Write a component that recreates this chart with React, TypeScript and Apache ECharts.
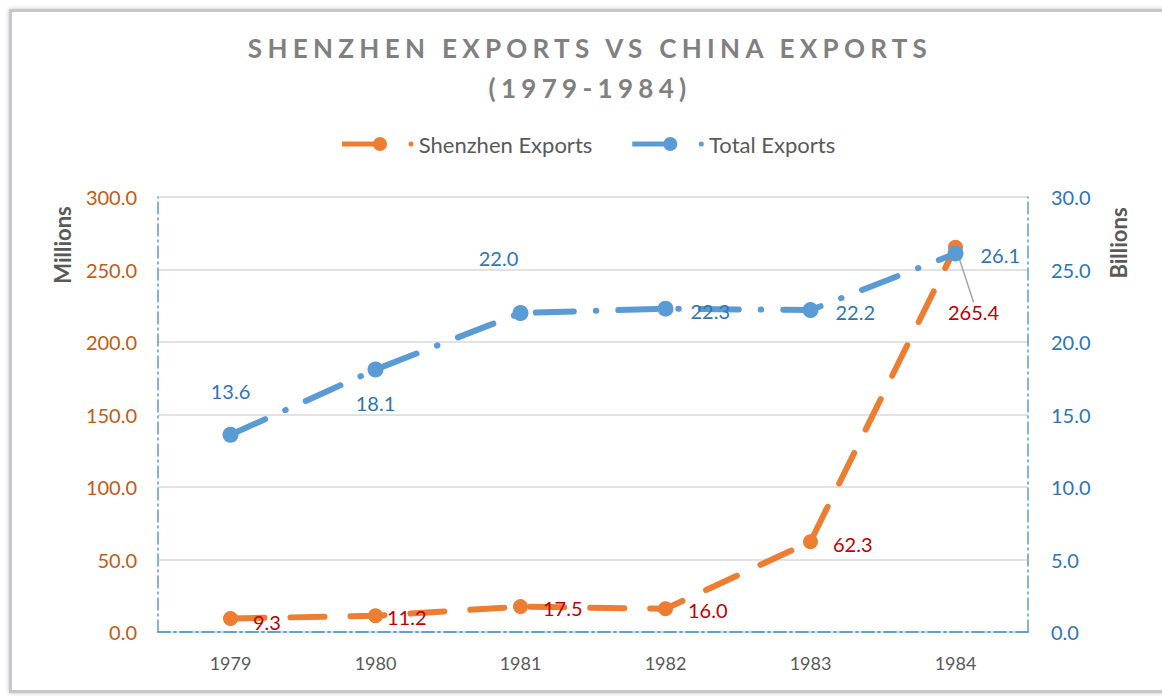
import React, { useEffect, useRef } from "react";
import * as echarts from "echarts";

const years = ["1979", "1980", "1981", "1982", "1983", "1984"];
const shenzhenExports = [9.3, 11.2, 17.5, 16.0, 62.3, 265.4];
const totalExports = [13.6, 18.1, 22.0, 22.3, 22.2, 26.1];
const leftAxisRange = { min: 0, max: 300, interval: 50 };
const rightAxisRange = { min: 0, max: 30, interval: 5 };

// label shifts (dx, dy) applied through labelLayout for the Shenzhen series
const shenzhenLabelShift = [
  [10, 3],
  [-1, 1],
  [10, 1],
  [10, 1],
  [10, 2],
  [-20, 65],
];
const totalLabelPlacement = [
  { position: "top", offset: [0, -21] },
  { position: "bottom", offset: [0, 10] },
  { position: "top", offset: [-22, -32] },
  { position: "right", offset: [12, 2] },
  { position: "right", offset: [12, 2] },
  { position: "right", offset: [12, 1] },
];

const ORANGE = "#ED7D31";
const BLUE = "#5B9BD5";
const FONT = "Lato";
const TITLE_FONT = "Lato, Carlito";
const BORDER_DASH = [12, 4, 2, 4];

const legendIcon =
  "path://M0 4.5H40V9.5H0Z M31 7A7 7 0 1 1 45 7A7 7 0 1 1 31 7Z M66.5 7A2.5 2.5 0 1 1 71.5 7A2.5 2.5 0 1 1 66.5 7Z";

export default function App() {
  const ref = useRef<HTMLDivElement>(null);

  useEffect(() => {
    document.body.style.margin = "0";
    if (!ref.current) return;
    const chart = echarts.init(ref.current, null, { renderer: "svg" });

    const borderLine = { show: true, lineStyle: { color: BLUE, width: 1.5, type: BORDER_DASH } };

    const option: any = {
      animation: false,
      backgroundColor: "#ffffff",
      title: {
        text: "SHENZHEN EXPORTS VS CHINA EXPORTS\n(1979-1984)",
        left: 585,
        top: 23,
        textAlign: "center",
        textStyle: {
          fontFamily: TITLE_FONT,
          fontSize: 26,
          fontWeight: "bold",
          color: "#808080",
          lineHeight: 40,
        },
      },
      legend: {
        top: 128,
        left: 337,
        itemGap: 40,
        itemWidth: 72,
        itemHeight: 14,
        textStyle: { fontFamily: FONT, fontSize: 22, color: "#595959" },
        data: [
          { name: "Shenzhen Exports", icon: legendIcon },
          { name: "Total Exports", icon: legendIcon },
        ],
      },
      grid: { left: 158, right: 134, top: 197, bottom: 64 },
      xAxis: [
        {
          type: "category",
          data: years,
          boundaryGap: true,
          axisLine: borderLine,
          axisTick: { show: false },
          axisLabel: { fontFamily: FONT, fontSize: 18, color: "#595959", margin: 22 },
          splitLine: { show: false },
        },
        {
          type: "category",
          data: years,
          position: "top",
          boundaryGap: true,
          axisLine: borderLine,
          axisTick: { show: false },
          axisLabel: { show: false },
          splitLine: { show: false },
        },
      ],
      yAxis: [
        {
          type: "value",
          ...leftAxisRange,
          position: "left",
          axisLine: borderLine,
          axisTick: { show: false },
          axisLabel: {
            fontFamily: FONT,
            fontSize: 20,
            color: "#C55A11",
            margin: 21,
            formatter: (v: number) => v.toFixed(1),
          },
          splitLine: { show: true, lineStyle: { color: "#D9D9D9", width: 1.5 } },
        },
        {
          type: "value",
          ...rightAxisRange,
          position: "right",
          axisLine: borderLine,
          axisTick: { show: false },
          axisLabel: {
            fontFamily: FONT,
            fontSize: 20,
            color: "#2E75B6",
            margin: 23,
            formatter: (v: number) => v.toFixed(1),
          },
          splitLine: { show: false },
        },
      ],
      series: [
        {
          name: "Shenzhen Exports",
          type: "line",
          xAxisIndex: 0,
          yAxisIndex: 0,
          symbol: "circle",
          symbolSize: 15,
          color: ORANGE,
          itemStyle: { color: ORANGE },
          lineStyle: { color: ORANGE, width: 6, type: [34, 26], cap: "round" },
          label: {
            show: true,
            position: "right",
            distance: 5,
            fontFamily: FONT,
            fontSize: 20,
            color: "#C00000",
            formatter: (p: any) => Number(p.value).toFixed(1),
          },
          labelLine: { show: false },
          labelLayout: (p: any) => ({
            dx: shenzhenLabelShift[p.dataIndex][0],
            dy: shenzhenLabelShift[p.dataIndex][1],
          }),
          data: shenzhenExports.map((v, i) => ({
            value: v,
            labelLine:
              i === 5
                ? { show: true, lineStyle: { color: "#A6A6A6", width: 1.5 } }
                : { show: false },
          })),
          z: 2,
        },
        {
          name: "Total Exports",
          type: "line",
          xAxisIndex: 0,
          yAxisIndex: 1,
          symbol: "circle",
          symbolSize: 16,
          color: BLUE,
          itemStyle: { color: BLUE },
          lineStyle: { color: BLUE, width: 6, type: [38, 22, 0.5, 22], cap: "round" },
          label: {
            show: true,
            distance: 5,
            fontFamily: FONT,
            fontSize: 20,
            color: "#2E75B6",
            formatter: (p: any) => Number(p.value).toFixed(1),
          },
          data: totalExports.map((v, i) => ({ value: v, label: totalLabelPlacement[i] })),
          z: 3,
        },
      ],
      graphic: [
        {
          type: "rect",
          z: -10,
          silent: true,
          shape: { x: 10.5, y: 10.5, width: 1200, height: 681 },
          style: {
            fill: "#ffffff",
            stroke: "#C6C6CB",
            lineWidth: 3,
            shadowBlur: 4,
            shadowColor: "rgba(0,0,0,0.25)",
          },
        },
        {
          type: "text",
          x: 62,
          y: 245,
          rotation: Math.PI / 2,
          style: {
            text: "Millions",
            align: "center",
            verticalAlign: "middle",
            fontFamily: FONT,
            fontSize: 22,
            fontWeight: "bold",
            fill: "#595959",
          },
        },
        {
          type: "text",
          x: 1118,
          y: 243,
          rotation: Math.PI / 2,
          style: {
            text: "Billions",
            align: "center",
            verticalAlign: "middle",
            fontFamily: FONT,
            fontSize: 22,
            fontWeight: "bold",
            fill: "#595959",
          },
        },
      ],
    };

    chart.setOption(option);
    return () => chart.dispose();
  }, []);

  return (
    <>
      <style>{'#chart text[style*="Carlito"]{letter-spacing:5.3px;}'}</style>
      <div id="chart" ref={ref} style={{ width: 1162, height: 696 }} />
    </>
  );
}
